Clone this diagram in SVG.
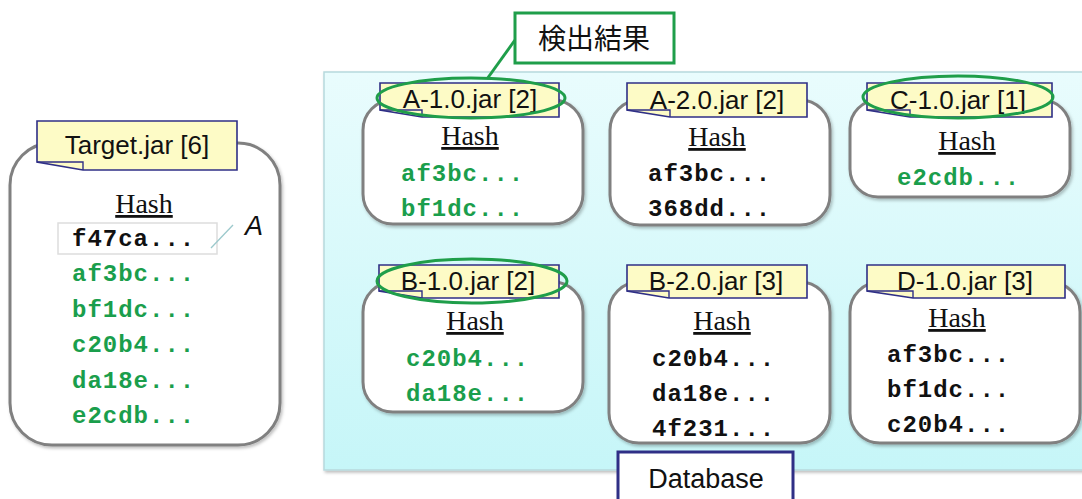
<svg xmlns="http://www.w3.org/2000/svg" width="1082" height="499" viewBox="0 0 1082 499">
  <defs>
    <linearGradient id="dbFill" x1="0" y1="0" x2="0" y2="1">
      <stop offset="0" stop-color="#e9fcfd"/>
      <stop offset="1" stop-color="#c6f6f8"/>
    </linearGradient>
    <filter id="shadow" x="-10%" y="-10%" width="125%" height="125%">
      <feDropShadow dx="1.5" dy="2" stdDeviation="1.5" flood-color="#000" flood-opacity="0.25"/>
    </filter>
    <style>
      .box { fill: #ffffff; stroke: #808080; stroke-width: 3; filter: url(#shadow); }
      .tag { fill: #fdfbc6; stroke: #2f2f86; stroke-width: 1.6; stroke-linejoin: miter; }
      .fold { fill: none; stroke: #2f2f86; stroke-width: 1.4; }
      .tagtxt { font-family: "Liberation Sans", Arial, sans-serif; font-size: 26px; fill: #111; text-anchor: middle; }
      .hash { font-family: "Liberation Serif", "Times New Roman", serif; font-size: 28px; fill: #111; text-anchor: middle; text-decoration: underline; }
      .h { font-family: "Liberation Mono", "Courier New", monospace; font-size: 24px; font-weight: bold; letter-spacing: 1px; fill: #111; }
      .g { fill: #1a9e4c; }
      .hit { fill: none; stroke: #1f9e4a; stroke-width: 3; }
    </style>
  </defs>

  <rect width="1082" height="499" fill="#ffffff"/>

  <!-- database area -->
  <g id="database-area">
    <rect x="324" y="72" width="770" height="398" fill="url(#dbFill)" stroke="#b7d9dd" stroke-width="1.5" filter="url(#shadow)"/>
  </g>

  <!-- connectors -->
  <g id="connectors">
    <line x1="515" y1="40" x2="487" y2="79" stroke="#1f9e4a" stroke-width="3"/>
  </g>

  <!-- Target.jar -->
  <g id="target">
    <rect class="box" x="10" y="143" width="270" height="302" rx="42"/>
    <polygon class="tag" points="37,121 237,121 237,170 83,170 37,162"/>
    <polyline class="fold" points="37,162 83,162 83,170"/>
    <text class="tagtxt" x="137" y="154">Target.jar [6]</text>
    <text class="hash" x="144" y="213">Hash</text>
    <rect x="58" y="223" width="159" height="31" fill="#ffffff" stroke="#dddddd" stroke-width="1.5"/>
    <line x1="211" y1="248" x2="233" y2="225" stroke="#9cc9cc" stroke-width="1.3"/>
    <text x="245" y="235" font-family="Liberation Sans, Arial, sans-serif" font-size="27" font-style="italic" fill="#111">A</text>
    <text class="h" x="72" y="246">f47ca...</text>
    <text class="h g" x="72" y="281">af3bc...</text>
    <text class="h g" x="72" y="317">bf1dc...</text>
    <text class="h g" x="72" y="352">c20b4...</text>
    <text class="h g" x="72" y="388">da18e...</text>
    <text class="h g" x="72" y="423">e2cdb...</text>
  </g>

  <!-- A-1.0.jar -->
  <g id="a-1-0">
    <rect class="box" x="363" y="100" width="220" height="124" rx="30"/>
    <polygon class="tag" points="380,83 559,83 559,117 422,117 380,110"/>
    <polyline class="fold" points="380,110 422,110 422,117"/>
    <text class="tagtxt" x="470" y="108">A-1.0.jar [2]</text>
    <ellipse class="hit" cx="471" cy="98" rx="94" ry="20"/>
    <text class="hash" x="470" y="145">Hash</text>
    <text class="h g" x="401" y="181">af3bc...</text>
    <text class="h g" x="401" y="216">bf1dc...</text>
  </g>

  <!-- A-2.0.jar -->
  <g id="a-2-0">
    <rect class="box" x="610" y="100" width="220" height="125" rx="30"/>
    <polygon class="tag" points="627,83 807,83 807,117 670,117 627,110"/>
    <polyline class="fold" points="627,110 670,110 670,117"/>
    <text class="tagtxt" x="717" y="109">A-2.0.jar [2]</text>
    <text class="hash" x="717" y="146">Hash</text>
    <text class="h" x="648" y="181">af3bc...</text>
    <text class="h" x="648" y="216">368dd...</text>
  </g>

  <!-- C-1.0.jar -->
  <g id="c-1-0">
    <rect class="box" x="850" y="100" width="220" height="97" rx="28"/>
    <polygon class="tag" points="867,83 1052,83 1052,117 910,117 867,110"/>
    <polyline class="fold" points="867,110 910,110 910,117"/>
    <text class="tagtxt" x="958" y="109">C-1.0.jar [1]</text>
    <ellipse class="hit" cx="958" cy="97" rx="95" ry="21"/>
    <text class="hash" x="967" y="150">Hash</text>
    <text class="h g" x="897" y="185">e2cdb...</text>
  </g>

  <!-- B-1.0.jar -->
  <g id="b-1-0">
    <rect class="box" x="363" y="282" width="220" height="130" rx="30"/>
    <polygon class="tag" points="379,265 559,265 559,298 422,298 379,291"/>
    <polyline class="fold" points="379,291 422,291 422,298"/>
    <text class="tagtxt" x="468" y="290">B-1.0.jar [2]</text>
    <ellipse class="hit" cx="472" cy="281" rx="95" ry="22"/>
    <text class="hash" x="475" y="330">Hash</text>
    <text class="h g" x="406" y="366">c20b4...</text>
    <text class="h g" x="406" y="401">da18e...</text>
  </g>

  <!-- B-2.0.jar -->
  <g id="b-2-0">
    <rect class="box" x="609" y="282" width="221" height="161" rx="30"/>
    <polygon class="tag" points="627,265 807,265 807,298 669,298 627,291"/>
    <polyline class="fold" points="627,291 669,291 669,298"/>
    <text class="tagtxt" x="716" y="290">B-2.0.jar [3]</text>
    <text class="hash" x="722" y="330">Hash</text>
    <text class="h" x="652" y="366">c20b4...</text>
    <text class="h" x="652" y="401">da18e...</text>
    <text class="h" x="652" y="436">4f231...</text>
  </g>

  <!-- D-1.0.jar -->
  <g id="d-1-0">
    <rect class="box" x="850" y="282" width="230" height="161" rx="30"/>
    <polygon class="tag" points="867,265 1065,265 1065,298 913,298 867,291"/>
    <polyline class="fold" points="867,291 913,291 913,298"/>
    <text class="tagtxt" x="965" y="290">D-1.0.jar [3]</text>
    <text class="hash" x="957" y="327">Hash</text>
    <text class="h" x="887" y="362">af3bc...</text>
    <text class="h" x="887" y="397">bf1dc...</text>
    <text class="h" x="887" y="432">c20b4...</text>
  </g>

  <!-- Database tab -->
  <g id="database-label">
    <rect x="618" y="452" width="175" height="60" fill="#ffffff" stroke="#2f2f86" stroke-width="3"/>
    <text x="706" y="488" font-family="Liberation Sans, Arial, sans-serif" font-size="27" fill="#111" text-anchor="middle">Database</text>
  </g>

  <!-- detection result callout -->
  <g id="result-callout">
    <rect x="515" y="13" width="159" height="50" fill="#ffffff" stroke="#1f9e4a" stroke-width="3"/>
    <text x="594" y="49" font-family="Liberation Sans, 'Noto Sans CJK JP', sans-serif" font-size="28" fill="#111" text-anchor="middle">検出結果</text>
  </g>
</svg>
